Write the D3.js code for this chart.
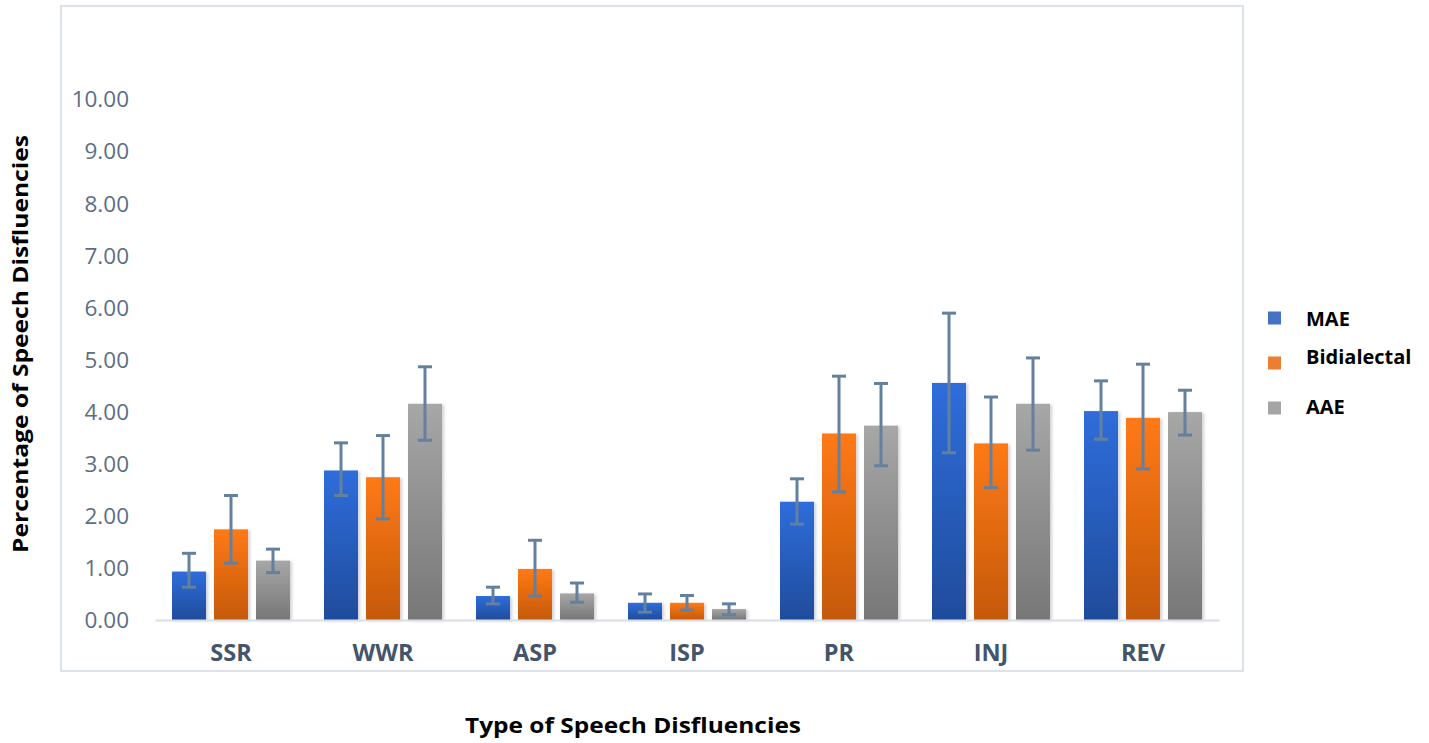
<!DOCTYPE html>
<html>
<head>
<meta charset="utf-8">
<script src="https://cdn.jsdelivr.net/npm/d3@7"></script>
<style>
  body { margin: 0; background: #fff; }
  svg { display: block; }
</style>
</head>
<body>
<svg id="chart" width="1429" height="743"></svg>
<script>
const categories = ["SSR", "WWR", "ASP", "ISP", "PR", "INJ", "REV"];
const seriesNames = ["MAE", "Bidialectal", "AAE"];
const maeValues  = [0.93, 2.87, 0.46, 0.33, 2.27, 4.55, 4.01];
const bidValues  = [1.74, 2.74, 0.98, 0.33, 3.58, 3.39, 3.88];
const aaeValues  = [1.14, 4.15, 0.51, 0.21, 3.73, 4.15, 3.99];
const maeErrHigh = [1.28, 3.40, 0.63, 0.50, 2.71, 5.89, 4.59];
const maeErrLow  = [0.63, 2.39, 0.31, 0.15, 1.84, 3.21, 3.47];
const bidErrHigh = [2.39, 3.54, 1.53, 0.47, 4.68, 4.28, 4.91];
const bidErrLow  = [1.09, 1.94, 0.46, 0.19, 2.46, 2.54, 2.90];
const aaeErrHigh = [1.36, 4.86, 0.71, 0.31, 4.54, 5.03, 4.41];
const aaeErrLow  = [0.91, 3.45, 0.34, 0.10, 2.96, 3.26, 3.55];
const yTicks = [0,1,2,3,4,5,6,7,8,9,10];

const seriesVals = [maeValues, bidValues, aaeValues];
const seriesHi = [maeErrHigh, bidErrHigh, aaeErrHigh];
const seriesLo = [maeErrLow, bidErrLow, aaeErrLow];
const grads = [
  {id: "gMAE", top: "#2f6ddb", bot: "#1f4c9b", legend: "#4472c4"},
  {id: "gBID", top: "#ff7a12", bot: "#c45910", legend: "#ed7d31"},
  {id: "gAAE", top: "#a7a7a7", bot: "#777777", legend: "#a5a5a5"}
];

const data = [];
categories.forEach((c, i) => {
  seriesNames.forEach((s, j) => {
    data.push({cat: c, series: s, j: j, v: seriesVals[j][i], hi: seriesHi[j][i], lo: seriesLo[j][i]});
  });
});

const svg = d3.select("#chart");
const defs = svg.append("defs");
grads.forEach(g => {
  const lg = defs.append("linearGradient").attr("id", g.id).attr("x1", 0).attr("y1", 0).attr("x2", 0).attr("y2", 1);
  lg.append("stop").attr("offset", "0%").attr("stop-color", g.top);
  lg.append("stop").attr("offset", "100%").attr("stop-color", g.bot);
});
const f = defs.append("filter").attr("id", "shadow").attr("x", "-20%").attr("y", "-5%").attr("width", "150%").attr("height", "115%");
f.append("feDropShadow").attr("dx", 2).attr("dy", 1).attr("stdDeviation", 1.5).attr("flood-color", "#000").attr("flood-opacity", 0.18);

// outer frame
svg.append("rect").attr("x", 61).attr("y", 6).attr("width", 1182).attr("height", 665)
  .attr("fill", "none").attr("stroke", "#dee3ea").attr("stroke-width", 2.2);

const x0 = d3.scaleBand().domain(categories).range([155, 1219]).paddingInner(34/152).paddingOuter(17/152);
const x1 = d3.scaleBand().domain(seriesNames).range([0, x0.bandwidth()]).paddingInner(0.19);
const y = d3.scaleLinear().domain([0, 10]).range([620, 99]);

// y axis
const yAxis = d3.axisLeft(y).tickValues(yTicks).tickFormat(d3.format(".2f")).tickSize(0).tickPadding(0);
const yg = svg.append("g").attr("transform", "translate(129,0)").call(yAxis);
yg.select(".domain").remove();
yg.selectAll("text").attr("font-family", "'Open Sans', sans-serif").attr("font-size", 22.5)
  .attr("fill", "#5e6d82").attr("dy", "0.35em");

// bars
const bars = svg.append("g");
bars.selectAll("rect").data(data).join("rect")
  .attr("x", d => x0(d.cat) + x1(d.series))
  .attr("y", d => y(d.v))
  .attr("width", x1.bandwidth())
  .attr("height", d => y(0) - y(d.v))
  .attr("fill", d => `url(#${grads[d.j].id})`)
  .attr("filter", "url(#shadow)");

// baseline + category labels
const xAxis = d3.axisBottom(x0).tickSize(0).tickPadding(0);
const xg = svg.append("g").attr("transform", `translate(0,${y(0)})`).call(xAxis);
xg.select(".domain").attr("stroke", "#d9dee5").attr("stroke-width", 2.2);
xg.selectAll("text").attr("font-family", "'Open Sans', sans-serif").attr("font-size", 23.5)
  .attr("font-weight", "bold").attr("fill", "#44546a").attr("y", 33).attr("dy", "0.35em");

// error bars
const eb = svg.append("g").attr("stroke", "#64809f").attr("stroke-width", 3).attr("fill", "none");
data.forEach(d => {
  const cx = x0(d.cat) + x1(d.series) + x1.bandwidth() / 2;
  const g = eb.append("g");
  g.append("line").attr("x1", cx).attr("x2", cx).attr("y1", y(d.hi)).attr("y2", y(d.lo));
  g.append("line").attr("x1", cx - 7).attr("x2", cx + 7).attr("y1", y(d.hi)).attr("y2", y(d.hi));
  g.append("line").attr("x1", cx - 7).attr("x2", cx + 7).attr("y1", y(d.lo)).attr("y2", y(d.lo));
});

// legend
const legendY = [318, 363, 408];
const legendTextY = [319, 357, 407];
const lg = svg.append("g");
seriesNames.forEach((s, j) => {
  lg.append("rect").attr("x", 1268).attr("y", legendY[j] - 6.5).attr("width", 13).attr("height", 13).attr("fill", grads[j].legend);
  lg.append("text").attr("x", 1306).attr("y", legendTextY[j]).attr("dy", "0.35em")
    .attr("font-family", "'Open Sans', sans-serif").attr("font-size", 20).attr("font-weight", "bold")
    .attr("fill", "#000").text(s);
});

// axis titles
svg.append("text").attr("transform", "translate(20,344) rotate(-90)").attr("text-anchor", "middle")
  .attr("dy", "0.35em").attr("font-family", "'Open Sans', sans-serif").attr("font-size", 22).attr("font-weight", "bold")
  .attr("textLength", 418).attr("lengthAdjust", "spacingAndGlyphs")
  .text("Percentage of Speech Disfluencies");
svg.append("text").attr("x", 633).attr("y", 725).attr("text-anchor", "middle")
  .attr("dy", "0.35em").attr("font-family", "'Open Sans', sans-serif").attr("font-size", 22).attr("font-weight", "bold")
  .attr("textLength", 336).attr("lengthAdjust", "spacingAndGlyphs")
  .text("Type of Speech Disfluencies");
</script>
</body>
</html>
